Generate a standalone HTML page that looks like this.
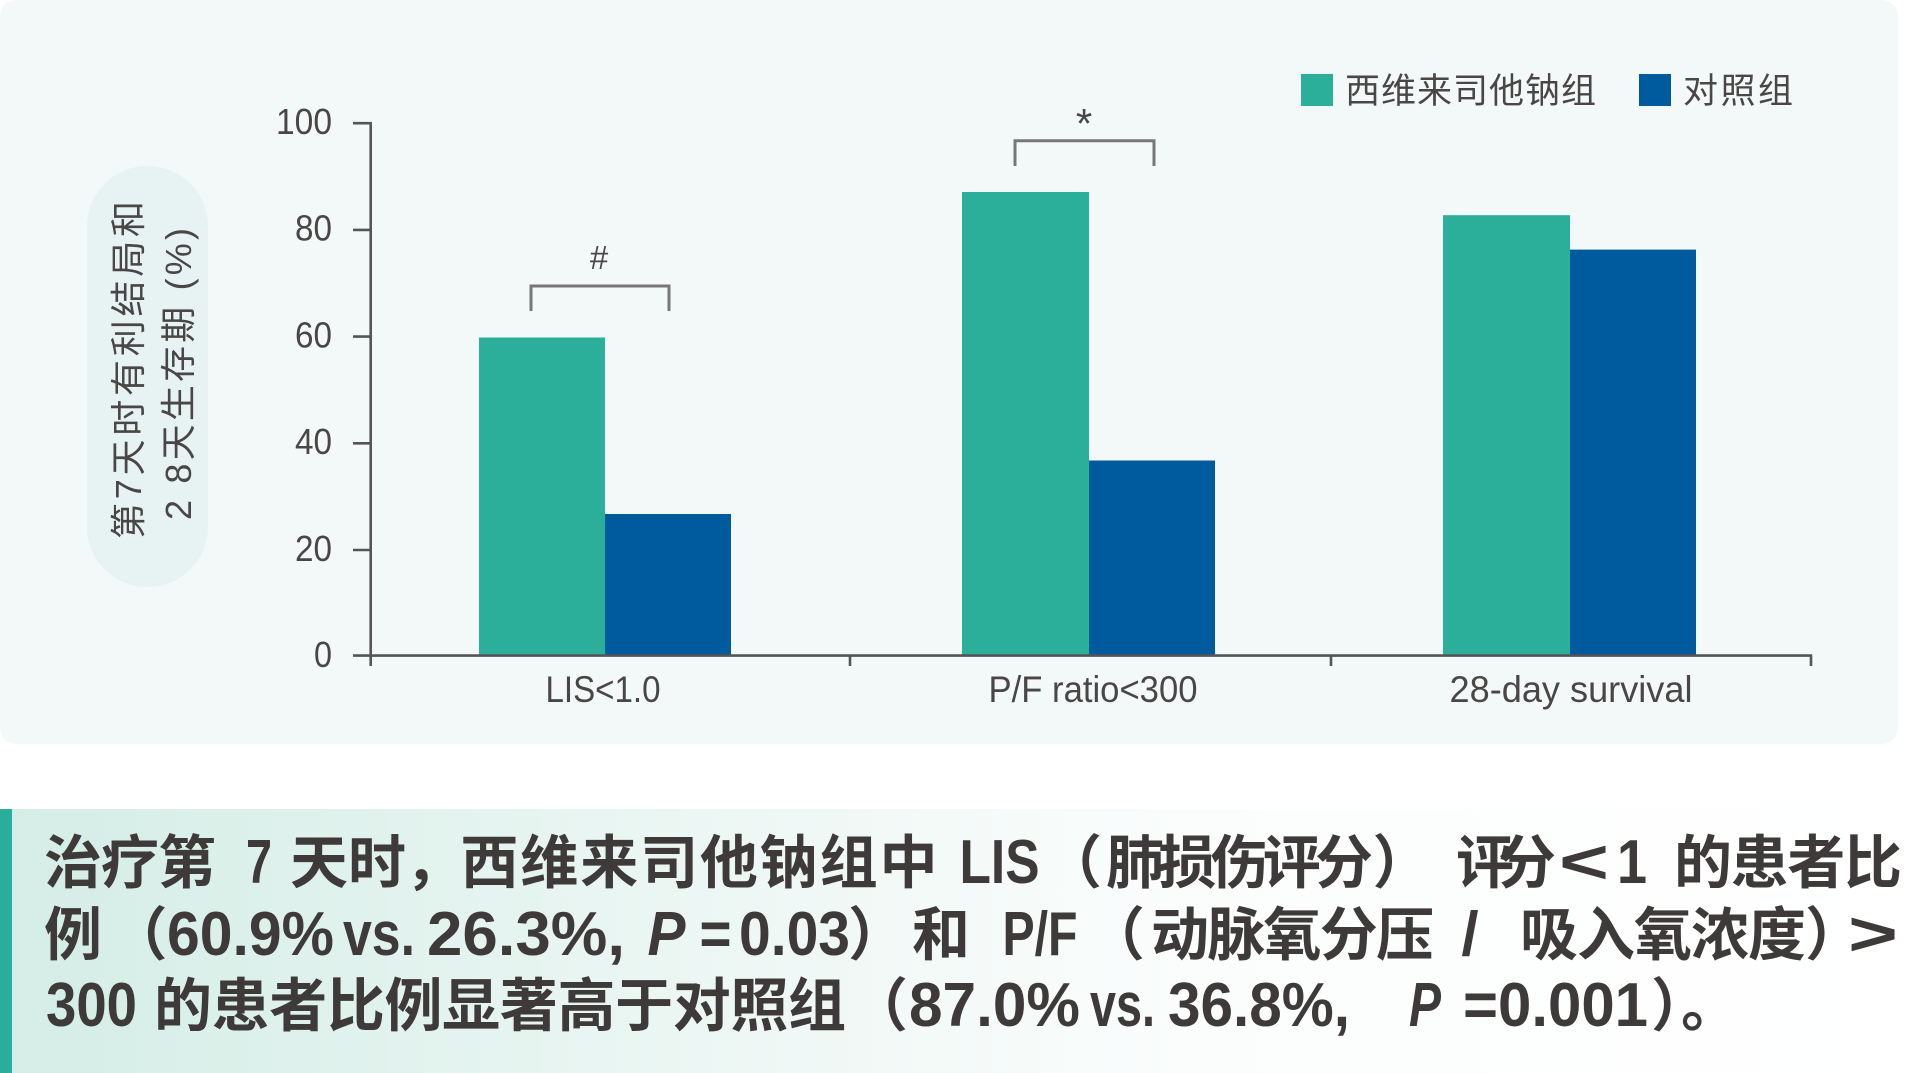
<!DOCTYPE html>
<html><head><meta charset="utf-8"><style>
html,body{margin:0;padding:0;background:#fff;}
body{width:1905px;height:1073px;overflow:hidden;position:relative;}
svg{position:absolute;left:0;top:0;display:block;}
text{font-family:"Liberation Sans","Noto Sans CJK SC",sans-serif;}
</style></head><body>
<svg width="1905" height="1073" viewBox="0 0 1905 1073" xmlns="http://www.w3.org/2000/svg">
<defs>
<linearGradient id="cg" x1="0" y1="0" x2="1" y2="0">
<stop offset="0" stop-color="#d4ede6"/>
<stop offset="0.35" stop-color="#ebf6f3"/>
<stop offset="0.62" stop-color="#fbfdfd"/>
<stop offset="1" stop-color="#ffffff"/>
</linearGradient>
</defs>
<!-- chart panel -->
<rect x="0" y="0" width="1898" height="744" rx="16" ry="16" fill="#f3f9f9"/>
<!-- y label pill -->
<rect x="87" y="166" width="121" height="421" rx="60" ry="60" fill="#e7f3f3"/>
<g fill="#4a4646" font-size="36">
<text transform="translate(141,370) rotate(-90)" text-anchor="middle" textLength="338" lengthAdjust="spacing">第7天时有利结局和</text>
<text transform="translate(191,374) rotate(-90)" text-anchor="middle" textLength="292" lengthAdjust="spacing">2 8天生存期 (%)</text>
</g>
<!-- bars -->
<rect x="479" y="337.5" width="126" height="318.5" fill="#2bae9a"/>
<rect x="605" y="514" width="126" height="142" fill="#005b9e"/>
<rect x="962" y="192" width="127" height="464" fill="#2bae9a"/>
<rect x="1089" y="460.5" width="126" height="195.5" fill="#005b9e"/>
<rect x="1443" y="215.2" width="127" height="440.8" fill="#2bae9a"/>
<rect x="1570" y="249.6" width="126" height="406.4" fill="#005b9e"/>
<!-- axes -->
<g stroke="#555" stroke-width="2.6" fill="none">
<line x1="370.7" y1="122" x2="370.7" y2="666"/>
<line x1="353" y1="655.6" x2="1812" y2="655.6"/>
<line x1="353" y1="123.2" x2="371" y2="123.2"/>
<line x1="353" y1="229.9" x2="371" y2="229.9"/>
<line x1="353" y1="336.6" x2="371" y2="336.6"/>
<line x1="353" y1="443.3" x2="371" y2="443.3"/>
<line x1="353" y1="550" x2="371" y2="550"/>
<line x1="850" y1="655" x2="850" y2="666"/>
<line x1="1331" y1="655" x2="1331" y2="666"/>
<line x1="1811" y1="655" x2="1811" y2="666"/>
</g>
<!-- tick labels -->
<g fill="#4a4646" font-size="36" text-anchor="end">
<text x="332" y="134" textLength="56" lengthAdjust="spacingAndGlyphs">100</text>
<text x="332" y="240.7" textLength="37" lengthAdjust="spacingAndGlyphs">80</text>
<text x="332" y="347.4" textLength="37" lengthAdjust="spacingAndGlyphs">60</text>
<text x="332" y="454.1" textLength="37" lengthAdjust="spacingAndGlyphs">40</text>
<text x="332" y="560.8" textLength="37" lengthAdjust="spacingAndGlyphs">20</text>
<text x="332" y="667" textLength="18" lengthAdjust="spacingAndGlyphs">0</text>
</g>
<!-- x labels -->
<g fill="#4a4646" font-size="37" text-anchor="middle">
<text x="603" y="702" textLength="115" lengthAdjust="spacingAndGlyphs">LIS&lt;1.0</text>
<text x="1093" y="702" textLength="209" lengthAdjust="spacingAndGlyphs">P/F ratio&lt;300</text>
<text x="1571" y="702" textLength="243" lengthAdjust="spacingAndGlyphs">28-day survival</text>
</g>
<!-- brackets -->
<g stroke="#777" stroke-width="3" fill="none">
<polyline points="531,311 531,286 669,286 669,311"/>
<polyline points="1015,166 1015,140.7 1154,140.7 1154,166"/>
</g>
<text x="599" y="269" font-size="33" fill="#4a4646" text-anchor="middle">#</text>
<text x="1084" y="138" font-size="42" fill="#4a4646" text-anchor="middle">*</text>
<!-- legend -->
<rect x="1301" y="74" width="32" height="32" fill="#2bae9a"/>
<text x="1345" y="103" font-size="35" fill="#4a4646" textLength="251" lengthAdjust="spacing">西维来司他钠组</text>
<rect x="1639" y="74" width="32" height="32" fill="#005b9e"/>
<text x="1683" y="103" font-size="35" fill="#4a4646" textLength="110" lengthAdjust="spacing">对照组</text>

<!-- caption box -->
<rect x="0" y="809" width="1905" height="264" fill="url(#cg)"/>
<rect x="0" y="809" width="12" height="264" fill="#2aae9c"/>
<g fill="#3e3a39" font-weight="700" text-anchor="middle">
<!-- line 1 -->
<g font-size="58">
<text x="130" y="883" textLength="172" lengthAdjust="spacing">治疗第</text>
<text x="348" y="883" textLength="116" lengthAdjust="spacing">天时</text>
<text x="434" y="883">，</text>
<text x="699" y="883" textLength="477" lengthAdjust="spacing">西维来司他钠组中</text>
<text x="1073" y="883">（</text>
<text x="1239.5" y="883" textLength="267" lengthAdjust="spacing">肺损伤评分</text>
<text x="1401.5" y="883">）</text>
<text x="1506" y="883" textLength="100" lengthAdjust="spacing">评分</text>
<text x="1788" y="883" textLength="228" lengthAdjust="spacing">的患者比</text>
</g>
<g font-size="62">
<text x="259" y="883" textLength="26" lengthAdjust="spacingAndGlyphs">7</text>
<text x="999.5" y="883" textLength="80" lengthAdjust="spacingAndGlyphs">LIS</text>
<text x="1584" y="883" textLength="50" lengthAdjust="spacingAndGlyphs">&lt;</text>
<text x="1632" y="883" textLength="30" lengthAdjust="spacingAndGlyphs">1</text>
</g>
<!-- line 2 -->
<g font-size="58">
<text x="73" y="955">例</text>
<text x="138.5" y="955">（</text>
<text x="877" y="955">）</text>
<text x="941" y="955">和</text>
<text x="1116" y="955">（</text>
<text x="1292.5" y="955" textLength="283" lengthAdjust="spacing">动脉氧分压</text>
<text x="1663" y="955" textLength="286" lengthAdjust="spacing">吸入氧浓度</text>
<text x="1834" y="955">）</text>
</g>
<g font-size="62">
<text x="250.5" y="955" textLength="167" lengthAdjust="spacingAndGlyphs">60.9%</text>
<text x="379" y="955" textLength="72" lengthAdjust="spacingAndGlyphs">vs.</text>
<text x="526" y="955" textLength="198" lengthAdjust="spacingAndGlyphs">26.3%,</text>
<text x="666.5" y="955" font-style="italic" textLength="38" lengthAdjust="spacingAndGlyphs">P</text>
<text x="715.5" y="955" textLength="32" lengthAdjust="spacingAndGlyphs">=</text>
<text x="794.5" y="955" textLength="111" lengthAdjust="spacingAndGlyphs">0.03</text>
<text x="1040" y="955" textLength="75" lengthAdjust="spacingAndGlyphs">P/F</text>
<text x="1470" y="955">/</text>
<text x="1873" y="955" textLength="50" lengthAdjust="spacingAndGlyphs">&gt;</text>
</g>
<!-- line 3 -->
<g font-size="58">
<text x="500" y="1026" textLength="692" lengthAdjust="spacing">的患者比例显著高于对照组</text>
<text x="879" y="1026">（</text>
<text x="1680" y="1026">）</text>
<text x="1710" y="1026">。</text>
</g>
<g font-size="62">
<text x="91.5" y="1026" textLength="91" lengthAdjust="spacingAndGlyphs">300</text>
<text x="994.5" y="1026" textLength="171" lengthAdjust="spacingAndGlyphs">87.0%</text>
<text x="1122.5" y="1026" textLength="65" lengthAdjust="spacingAndGlyphs">vs.</text>
<text x="1259" y="1026" textLength="182" lengthAdjust="spacingAndGlyphs">36.8%,</text>
<text x="1425" y="1026" font-style="italic" textLength="32" lengthAdjust="spacingAndGlyphs">P</text>
<text x="1555.5" y="1026" textLength="185" lengthAdjust="spacingAndGlyphs">=0.001</text>
</g>
</g>
</svg>
</body></html>
